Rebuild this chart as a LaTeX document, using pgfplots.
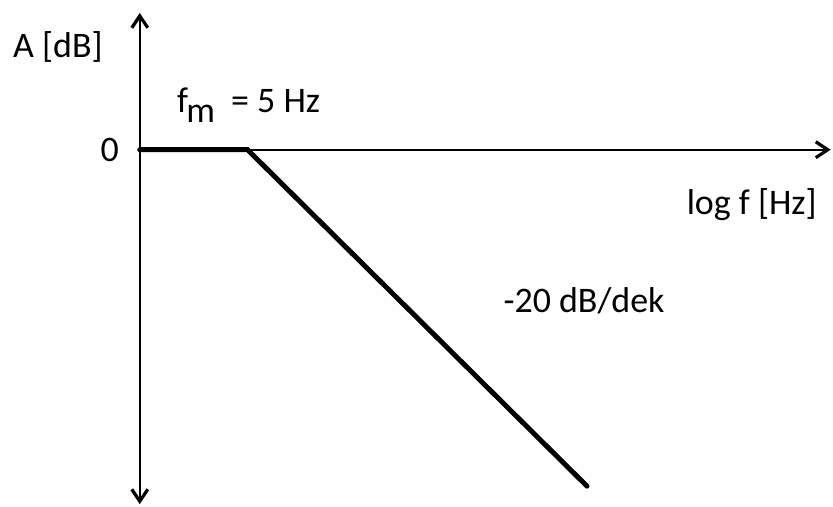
\documentclass[border=0pt]{standalone}
\usepackage{fontspec}
\setmainfont{Carlito}
\usepackage{pgfplots}
\pgfplotsset{compat=1.18}
\usetikzlibrary{arrows.meta}
\begin{document}
\begin{tikzpicture}[every node/.style={font=\fontsize{18}{21}\selectfont, inner sep=0pt}]
\begin{axis}[
  scale only axis, width=346pt, height=246pt,
  xmin=0, xmax=692, ymin=-355, ymax=137,
  axis lines=middle,
  x axis line style={line width=1pt, -{Straight Barb[length=6pt,width=8pt,line width=1.6pt]}},
  y axis line style={line width=1pt, {Straight Barb[length=6pt,width=8pt,line width=1.6pt]}-{Straight Barb[length=6pt,width=8pt,line width=1.6pt]}},
  xtick=\empty, ytick=\empty,
  clip=false,
]
\addplot[draw=none, forget plot] coordinates {(-140,150) (693,-357)};
\addplot[black, line width=2.5pt, line cap=round] coordinates {(0,0) (108,0) (448,-337)};
\node[anchor=base] at (axis cs:-82,92) {A [dB]};
\node[anchor=base] at (axis cs:-30,-12) {0};
\node[anchor=base] at (axis cs:613,-65) {log f [Hz]};
\node[anchor=base] at (axis cs:445,-163) {-20 dB/dek};
\node[anchor=base west] at (axis cs:37,37) {f\hspace{-0.05em}\raisebox{-5pt}{m}\hspace{0.45em}= 5 Hz};
\end{axis}
\end{tikzpicture}
\end{document}
